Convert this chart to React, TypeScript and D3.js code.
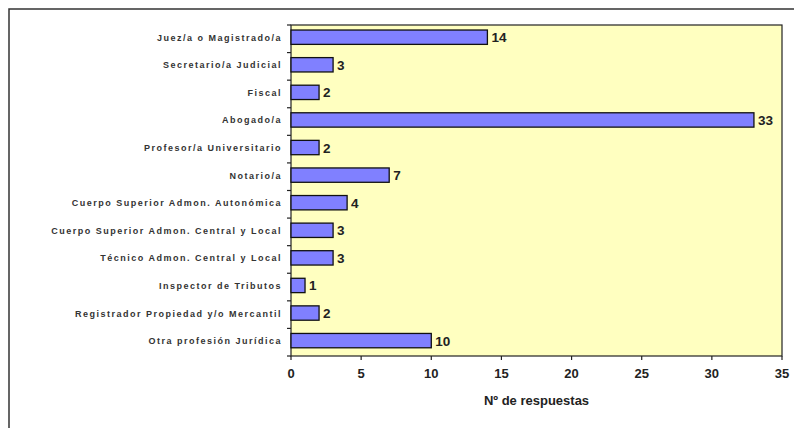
import React from "react";
import * as d3 from "d3";

const categories = [
  "Juez/a o Magistrado/a",
  "Secretario/a Judicial",
  "Fiscal",
  "Abogado/a",
  "Profesor/a Universitario",
  "Notario/a",
  "Cuerpo Superior Admon. Autonómica",
  "Cuerpo Superior Admon. Central y Local",
  "Técnico Admon. Central y Local",
  "Inspector de Tributos",
  "Registrador Propiedad y/o Mercantil",
  "Otra profesión Jurídica",
];
const values = [14, 3, 2, 33, 2, 7, 4, 3, 3, 1, 2, 10];
const xTicks = [0, 5, 10, 15, 20, 25, 30, 35];
const xTitle = "Nº de respuestas";

export default function App() {
  const W = 794, H = 428;
  const left = 291, right = 782, top = 25, bottom = 356;
  const x = d3.scaleLinear().domain([0, 35]).range([left, right]);
  const y = d3.scaleBand<string>().domain(categories).range([top, bottom]).paddingInner(0.48).paddingOuter(0.24).align(0.38);
  const band = (bottom - top) / categories.length;
  const font = "Arial, 'Liberation Sans', sans-serif";
  return (
    <svg width={W} height={H} style={{ position: "absolute", left: 0, top: 0, background: "#fff" }}>
      <rect x={9} y={9} width={W} height={H} fill="none" stroke="#333" strokeWidth={1.5} />
      <rect x={left} y={top} width={right - left} height={bottom - top} fill="#FFFFC0" stroke="#222" strokeWidth={1.2} />
      {categories.map((c, i) => (
        <line key={"t" + i} x1={left - 4} x2={left} y1={top + band * (i + 1)} y2={top + band * (i + 1)} stroke="#222" strokeWidth={1.2} />
      ))}
      <line x1={left - 4} x2={left} y1={top} y2={top} stroke="#222" strokeWidth={1.2} />
      {xTicks.map((t) => (
        <g key={"x" + t}>
          <line x1={x(t)} x2={x(t)} y1={bottom} y2={bottom + 4} stroke="#222" strokeWidth={1.2} />
          <text x={x(t)} y={bottom + 22} textAnchor="middle" fontFamily={font} fontWeight="bold" fontSize={13} fill="#222">{t}</text>
        </g>
      ))}
      {categories.map((c, i) => (
        <g key={c}>
          <rect x={x(0)} y={y(c)!} width={x(values[i]) - x(0)} height={y.bandwidth()} fill="#8080FF" stroke="#111" strokeWidth={1.3} />
          <text x={x(values[i]) + 4} y={y(c)! + y.bandwidth() / 2 + 5} fontFamily={font} fontWeight="bold" fontSize={13.5} fill="#222">{values[i]}</text>
          <text x={282} y={y(c)! + y.bandwidth() / 2 + 3.5} textAnchor="end" fontFamily={font} fontWeight="bold" fontSize={9} letterSpacing={1.5} fill="#333">{c}</text>
        </g>
      ))}
      <text x={(left + right) / 2} y={405} textAnchor="middle" fontFamily={font} fontWeight="bold" fontSize={13} fill="#222">{xTitle}</text>
    </svg>
  );
}
